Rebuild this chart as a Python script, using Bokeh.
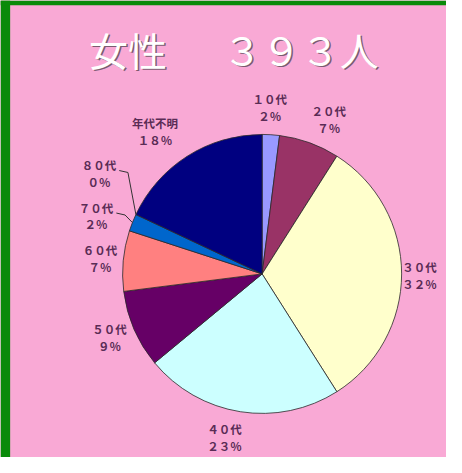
import math
from bokeh.plotting import figure
from bokeh.models import Range1d, Label, ColumnDataSource
from bokeh.core.properties import value
from bokeh.embed import file_html
from bokeh.resources import INLINE

# ---- data ----
categories = ["１０代", "２０代", "３０代", "４０代", "５０代", "６０代", "７０代", "８０代", "年代不明"]
percents = [2, 7, 32, 23, 9, 7, 2, 0, 18]
pct_labels = ["２％", "７％", "３２％", "２３％", "９％", "７％", "２％", "０％", "１８％"]
title_left = "女性"
title_right = "３９３人"

# ---- styles / layout ----
colors = ["#9999FF", "#993366", "#FFFFCC", "#CCFFFF", "#660066", "#FF8080", "#0066CC", "#CCCCFF", "#000080"]
PINK = "#F9A9D5"
GREEN = "#0A8A0A"
LABEL_COLOR = "#5A2C55"
FONT = "Noto Sans CJK JP"
cx, cy, r = 271, -283, 144.5
# label centres (reference pixels, y downward)
label_pos = [(279, 111), (340, 123), (434, 285), (232, 452), (113, 349),
             (103, 267), (99, 223), (102, 179), (160, 136)]
leader_for = {6, 7}

p = figure(width=446, height=457, output_backend="svg", toolbar_location=None,
           x_range=Range1d(0, 462), y_range=Range1d(-473, 0),
           x_axis_type=None, y_axis_type=None, min_border=0)
p.background_fill_color = PINK
p.border_fill_color = PINK
p.outline_line_color = None
p.xgrid.visible = False
p.ygrid.visible = False

# green frame strips (left and top)
p.quad(left=[0, 0], right=[10, 462], bottom=[-473, -5], top=[0, 0],
       fill_color=GREEN, line_color=None)

total = float(sum(percents))
starts, ends, mids = [], [], []
cum = 0.0
for v in percents:
    f0 = cum / total
    cum += v
    f1 = cum / total
    starts.append(math.pi / 2 - 2 * math.pi * f0)
    ends.append(math.pi / 2 - 2 * math.pi * f1)
    mids.append((f0 + f1) / 2)

keep = [i for i, v in enumerate(percents) if v > 0]
src = ColumnDataSource(dict(
    start=[starts[i] for i in keep], end=[ends[i] for i in keep],
    color=[colors[i] for i in keep]))
p.wedge(x=cx, y=cy, radius=r, start_angle="start", end_angle="end",
        direction="clock", fill_color="color", line_color="#2A2A2A",
        line_width=0.8, source=src)

# labels
lx = [pos[0] for pos in label_pos]
ly = [-pos[1] for pos in label_pos]
txt = [c + "\n" + pl for c, pl in zip(categories, pct_labels)]
p.text(x=lx, y=ly, text=txt, text_font=value(FONT), text_font_size="11.5px",
       text_font_style="bold", text_color=LABEL_COLOR, text_align="center",
       text_baseline="middle", text_line_height=1.05)

# leader lines for small slices
for i in leader_for:
    f = mids[i]
    ex = cx + r * math.sin(2 * math.pi * f)
    ey = cy + r * math.cos(2 * math.pi * f)
    x0, y0 = lx[i] + 21, ly[i] + 3
    x1, y1 = lx[i] + 30, ly[i] + 1
    p.line([x0, x1, ex], [y0, y1, ey], line_color="#333333", line_width=1)

# title with shadow
for (t, x) in [(title_left, 132), (title_right, 311)]:
    p.add_layout(Label(x=x + 1.5, y=-51.5, text=t, text_font=FONT, text_font_size="39px",
                       text_color="#7B5A70", text_align="center", text_baseline="middle"))
    p.add_layout(Label(x=x, y=-50, text=t, text_font=FONT, text_font_size="39px",
                       text_color="#FFFFFF", text_align="center", text_baseline="middle"))

open("out.html", "w").write(file_html(p, INLINE))
